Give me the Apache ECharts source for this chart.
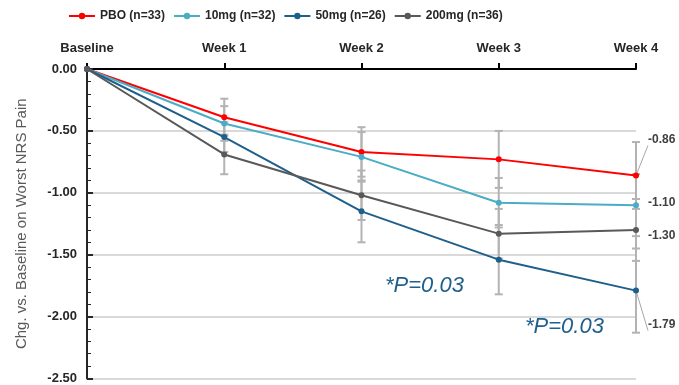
<!DOCTYPE html>
<html>
<head>
<meta charset="utf-8">
<script src="https://cdn.jsdelivr.net/npm/echarts@6/dist/echarts.min.js"></script>
<style>
html,body{margin:0;padding:0;background:#fff;}
#main{width:679px;height:385px;}
</style>
</head>
<body>
<div id="main"></div>
<script>
var weeks = ['Baseline', 'Week 1', 'Week 2', 'Week 3', 'Week 4'];
var yTicks = [0, -0.5, -1, -1.5, -2, -2.5];

var names = ['PBO (n=33)', '10mg (n=32)', '50mg (n=26)', '200mg (n=36)'];
var colors = ['#ff0000', '#4bacc6', '#1f5f8b', '#595959'];

var pbo   = [0, -0.39, -0.67, -0.73, -0.86];
var mg10  = [0, -0.44, -0.71, -1.08, -1.10];
var mg50  = [0, -0.55, -1.15, -1.54, -1.79];
var mg200 = [0, -0.69, -1.02, -1.33, -1.30];

// half-width of error bars
var pboErr   = [0, 0.15, 0.20, 0.23, 0.27];
var mg10Err  = [0, 0.14, 0.20, 0.20, 0.25];
var mg50Err  = [0, 0.12, 0.25, 0.28, 0.34];
var mg200Err = [0, 0.16, 0.20, 0.20, 0.25];

// end labels, same order as the series
var endLabels = ['-0.86', '-1.10', '-1.79', '-1.30'];
var endOffsets = [[4, -36], [4, -2], [4, 34], [4, 6]];
var endLeader = [true, false, true, false];

var allVals = [pbo, mg10, mg50, mg200];
var allErr = [pboErr, mg10Err, mg50Err, mg200Err];

var errData = [];
allVals.forEach(function (vals, s) {
  vals.forEach(function (v, i) {
    if (allErr[s][i] > 0) errData.push([i, v, allErr[s][i]]);
  });
});

var series = [{
  type: 'custom',
  name: 'err',
  z: 1,
  silent: true,
  data: errData,
  renderItem: function (params, api) {
    var x = api.value(0), m = api.value(1), e = api.value(2);
    var hi = api.coord([x, m + e]);
    var lo = api.coord([x, m - e]);
    var w = 4;
    var st = { stroke: '#b3b3b3', lineWidth: 2 };
    return {
      type: 'group',
      children: [
        { type: 'line', shape: { x1: hi[0], y1: hi[1], x2: lo[0], y2: lo[1] }, style: st },
        { type: 'line', shape: { x1: hi[0] - w, y1: hi[1], x2: hi[0] + w, y2: hi[1] }, style: st },
        { type: 'line', shape: { x1: lo[0] - w, y1: lo[1], x2: lo[0] + w, y2: lo[1] }, style: st }
      ]
    };
  }
}];

allVals.forEach(function (vals, s) {
  series.push({
    type: 'line',
    name: names[s],
    z: 3,
    symbol: 'circle',
    symbolSize: 6,
    color: colors[s],
    lineStyle: { width: 2 },
    data: vals.map(function (v, i) {
      if (i < vals.length - 1) return v;
      return {
        value: v,
        label: {
          show: true,
          position: 'right',
          offset: endOffsets[s],
          formatter: endLabels[s],
          color: '#404040',
          fontWeight: 'bold',
          fontSize: 12
        },
        labelLine: { show: endLeader[s], lineStyle: { color: '#a6a6a6', width: 1 } }
      };
    }),
    labelLine: { show: endLeader[s], lineStyle: { color: '#a6a6a6', width: 1 } }
  });
});

var chart = echarts.init(document.getElementById('main'));
chart.setOption({
  animation: false,
  textStyle: { fontFamily: 'Liberation Sans, Arial, sans-serif' },
  legend: {
    data: names,
    left: 63,
    top: 5,
    itemWidth: 26,
    itemHeight: 8,
    itemGap: 8,
    textStyle: { fontSize: 12, color: '#262626', fontWeight: 'bold' }
  },
  grid: { left: 87, right: 43, top: 69, bottom: 5 },
  xAxis: {
    type: 'category',
    position: 'top',
    boundaryGap: false,
    data: weeks,
    axisLine: { lineStyle: { color: '#000', width: 2 } },
    axisTick: { show: true, alignWithLabel: true, length: 6, lineStyle: { color: '#000', width: 2 } },
    axisLabel: { margin: 14, fontSize: 13, fontWeight: 'bold', color: '#262626' }
  },
  yAxis: {
    type: 'value',
    min: -2.5,
    max: 0,
    interval: 0.5,
    name: 'Chg. vs. Baseline on Worst NRS Pain',
    nameLocation: 'middle',
    nameGap: 58,
    nameTextStyle: { fontSize: 15, color: '#595959' },
    axisLine: { show: true, lineStyle: { color: '#262626', width: 2 } },
    axisTick: { show: true, inside: true, length: 6, lineStyle: { color: '#262626', width: 2 } },
    minorTick: { show: true, splitNumber: 5, length: 4, lineStyle: { color: '#262626' } },
    splitLine: { show: true, lineStyle: { color: '#d9d9d9', width: 2 } },
    axisLabel: {
      fontSize: 13, fontWeight: 'bold', color: '#262626', margin: 10,
      formatter: function (v) {
        return yTicks.indexOf(v) >= 0 ? v.toFixed(2) : '';
      }
    }
  },
  graphic: [
    { type: 'text', x: 385, y: 286, style: { text: '*P=0.03', fill: '#1f5f8b', fontSize: 22, fontStyle: 'italic', verticalAlign: 'middle', fontFamily: 'Liberation Sans, Arial, sans-serif' } },
    { type: 'text', x: 525, y: 327, style: { text: '*P=0.03', fill: '#1f5f8b', fontSize: 22, fontStyle: 'italic', verticalAlign: 'middle', fontFamily: 'Liberation Sans, Arial, sans-serif' } }
  ],
  series: series
});
</script>
</body>
</html>
